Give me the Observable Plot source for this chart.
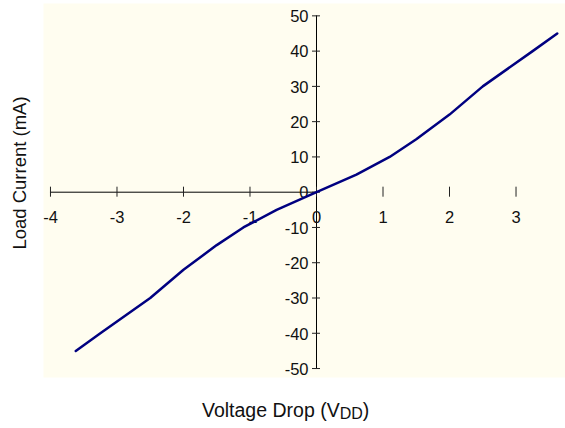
<!DOCTYPE html>
<html><head><meta charset="utf-8">
<script src="https://cdn.jsdelivr.net/npm/d3@7"></script>
<script src="https://cdn.jsdelivr.net/npm/@observablehq/plot@0.6"></script>
<style>
body{margin:0;background:#fff}
#chart svg text{font-family:"Liberation Sans",Arial,sans-serif}
</style>
</head><body><div id="chart"></div>
<script>
// Data
const voltage = [-3.62, -3.25, -2.5, -2.0, -1.5, -1.1, -0.6, 0, 0.6, 1.1, 1.5, 2.0, 2.5, 3.25, 3.62];
const current = [-45, -40, -30, -22, -15, -10, -5, 0, 5, 10, 15, 22, 30, 40, 45];
const xTicks = [-4, -3, -2, -1, 0, 1, 2, 3];
const yTicks = [-50, -40, -30, -20, -10, 0, 10, 20, 30, 40, 50];
const xTitle = "Voltage Drop (V";
const xTitleSub = "DD";
const yTitle = "Load Current (mA)";

const pts = voltage.map((v, i) => ({v, c: current[i]}));
// tick half-lengths, in data units (~5px and ~4px)
const xTickHalf = 1.42;
const yTickHalf = 0.06;

const chart = Plot.plot({
  width: 565, height: 428,
  marginLeft: 43, marginRight: 0, marginTop: 3, marginBottom: 51,
  x: {domain: [-4.105, 3.744], axis: null},
  y: {domain: [-52.54, 53.5], axis: null},
  style: {fontFamily: "Liberation Sans, Arial, sans-serif", background: "white", overflow: "visible"},
  marks: [
    Plot.frame({fill: "#FFFDF0", stroke: null}),
    Plot.ruleY([0], {x1: xTicks[0], stroke: "black", strokeWidth: 1}),
    Plot.ruleX([0], {y1: yTicks[0], y2: yTicks[yTicks.length - 1], stroke: "black", strokeWidth: 1}),
    Plot.ruleX(xTicks, {x: d => d, y1: -xTickHalf, y2: xTickHalf, stroke: "#222"}),
    Plot.ruleY(yTicks, {y: d => d, x1: -yTickHalf, x2: yTickHalf, stroke: "#222"}),
    Plot.text(xTicks, {x: d => d, y: 0, text: d => String(d), dy: 26, fontSize: 16.5, fill: "#111", textAnchor: "middle"}),
    Plot.text(yTicks, {x: 0, y: d => d, text: d => String(d), dx: -8, dy: 1, fontSize: 16.5, fill: "#111", textAnchor: "end"}),
    Plot.line(pts, {x: "v", y: "c", stroke: "#000080", strokeWidth: 2.5, strokeLinejoin: "round"})
  ]
});
document.getElementById("chart").appendChild(chart);

const svg = d3.select(chart);
const t = svg.append("text")
  .attr("x", 202).attr("y", 416.7)
  .attr("text-anchor", "start")
  .attr("font-size", 19.5).attr("fill", "#111");
t.append("tspan").text(xTitle);
t.append("tspan").attr("font-size", 16).attr("dy", 2.7).text(xTitleSub);
t.append("tspan").attr("dy", -2.7).text(")");

svg.append("text")
  .attr("transform", "translate(26,173) rotate(-90)")
  .attr("text-anchor", "middle")
  .attr("font-size", 18.5).attr("fill", "#111")
  .text(yTitle);
</script>
</body></html>
